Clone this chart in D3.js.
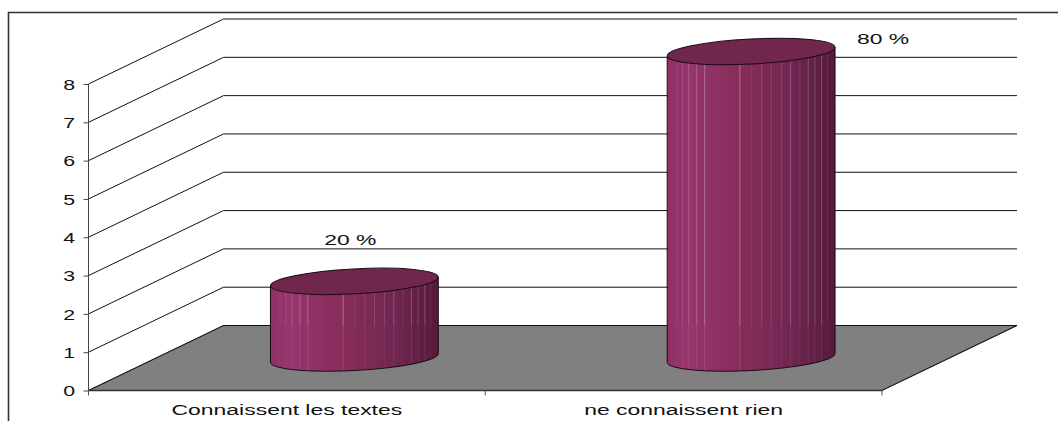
<!DOCTYPE html>
<html><head><meta charset="utf-8">
<script src="https://cdn.jsdelivr.net/npm/d3@7"></script>
<style>html,body{margin:0;padding:0;background:#fff;overflow:hidden}svg{display:block}text{font-family:"Liberation Sans",Arial,sans-serif;fill:#111}</style>
</head><body><svg id="c" width="1058" height="421"></svg>
<script>
const categories = ["Connaissent les textes", "ne connaissent rien"];
const values = [2, 8];
const valueLabels = ["20 %", "80 %"];
const yTicks = [0, 1, 2, 3, 4, 5, 6, 7, 8];
const stripeFractions = [0.057,0.092,0.128,0.176,0.223,0.433,0.503,0.563,0.62,0.68,0.735,0.79,0.84,0.88,0.92,0.955];
const stripeStrength = [.08,.14,.18,.24,.28,.32,.08,.14,.14,.14,.22,.1,.22,.18,.22,.08];

const svg = d3.select("#c");
const depth = {x: 135, y: -65};
const stretch = 1.48;
const y = d3.scaleLinear().domain([0, 8]).range([390.5, 84]);
const x = d3.scaleBand().domain(categories).range([88.5, 882]);
const rx = x.bandwidth() * 0.2115, ry = 12.5, tilt = -3;

const defs = svg.append("defs");
const grad = defs.append("linearGradient").attr("id", "side");
[[0,"#8e3065"],[0.12,"#96366d"],[0.45,"#872c5a"],[0.75,"#6f2650"],[1,"#541b3a"]]
  .forEach(([o,c]) => grad.append("stop").attr("offset", o).attr("stop-color", c));

// frame
svg.append("path").attr("d", "M8.5,421V12.5H1058").attr("fill", "none").attr("stroke", "#333").attr("stroke-width", 1.6);

// floor
const xa = x.range()[0], xb = x.range()[1], y0 = y(0);
svg.append("path")
  .attr("d", `M${xa},${y0}L${xa+depth.x},${y0+depth.y}H${xb+depth.x}L${xb},${y0}Z`)
  .attr("fill", "#808080").attr("stroke", "#111").attr("stroke-width", 1.1);

// gridlines (side wall + back wall)
svg.append("g").selectAll("path").data(yTicks.filter(d => d > 0)).join("path")
  .attr("d", d => `M${xa},${y(d)}L${xa+depth.x},${y(d)+depth.y}H${xb+depth.x}`)
  .attr("fill", "none").attr("stroke", "#111").attr("stroke-width", 1);

// axes
const yAxis = svg.append("g").attr("transform", `translate(${xa},0)`)
  .call(d3.axisLeft(y).tickValues(yTicks).tickSize(5).tickFormat(d3.format("d")));
yAxis.selectAll("text")
  .attr("font-size", 15).attr("font-family", '"Liberation Sans",Arial,sans-serif').attr("x", 0).attr("y", 0.5)
  .attr("transform", `translate(-13.5,0) scale(1.42,1)`);
yAxis.selectAll("line,path").attr("stroke", "#444");
yAxis.select("path").attr("d", `M0,${y(8)}V${y0}`);

const xAxis = svg.append("g").attr("transform", `translate(0,${y0})`);
xAxis.append("line").attr("x1", xa).attr("x2", xb).attr("stroke", "#333").attr("stroke-width", 1.6);
xAxis.selectAll("line.t").data([0,1,2]).join("line").attr("class","t")
  .attr("x1", i => xa + i*x.step()).attr("x2", i => xa + i*x.step()).attr("y1", 0).attr("y2", 5).attr("stroke", "#555");
xAxis.selectAll("text").data(categories).join("text")
  .attr("text-anchor", "middle").attr("font-size", 15.5)
  .attr("transform", d => `translate(${x(d) + x.bandwidth()/2},24) scale(${stretch},1)`).text(d => d);

// cylinders
const bars = svg.append("g");
const floorBack = y0 + depth.y;
categories.forEach((cat, i) => {
  const cx = x(cat) + x.bandwidth()/2 + depth.x/2;
  const base = y(0) + depth.y/2;
  const top = base - (y(0) - y(values[i]));
  const dy = rx * Math.sin(-tilt * Math.PI/180);
  const g = bars.append("g");
  const body = `M${cx-rx},${top+dy}L${cx+rx},${top-dy}L${cx+rx},${base-dy}`
    + `A${rx},${ry} ${tilt} 0 1 ${cx-rx},${base+dy}Z`;
  g.append("path").attr("d", body).attr("fill", "url(#side)");
  const clipId = "cl"+i;
  defs.append("clipPath").attr("id", clipId).append("path").attr("d", body);
  const st = g.append("g").attr("clip-path", `url(#${clipId})`);
  stripeFractions.forEach((f, k) => {
    const sx = cx - rx + 2*rx*f;
    st.append("line").attr("x1", sx).attr("x2", sx).attr("y1", top-20).attr("y2", floorBack)
      .attr("stroke", "#fff").attr("stroke-opacity", stripeStrength[k]);
    st.append("line").attr("x1", sx).attr("x2", sx).attr("y1", floorBack).attr("y2", base+20)
      .attr("stroke", "#fff").attr("stroke-opacity", stripeStrength[k] * 0.4);
  });
  g.append("path").attr("d", body).attr("fill", "none").attr("stroke", "#1a0a14").attr("stroke-width", 1);
  g.append("ellipse").attr("cx", cx).attr("cy", top).attr("rx", rx).attr("ry", ry)
    .attr("transform", `rotate(${tilt} ${cx} ${top})`)
    .attr("fill", "#71274d").attr("stroke", "#1a0a14").attr("stroke-width", 1);
});

// value labels
const labelOffset = [{dx:-4,dy:-36},{dx:132,dy:-8}];
svg.append("g").selectAll("text").data(valueLabels).join("text")
  .attr("text-anchor", "middle").attr("font-size", 15.5)
  .attr("transform", (d,i) => `translate(${x(categories[i]) + x.bandwidth()/2 + depth.x/2 + labelOffset[i].dx},${y(values[i]) + depth.y/2 + labelOffset[i].dy}) scale(${stretch},1)`)
  .text(d => d);
</script></body></html>
